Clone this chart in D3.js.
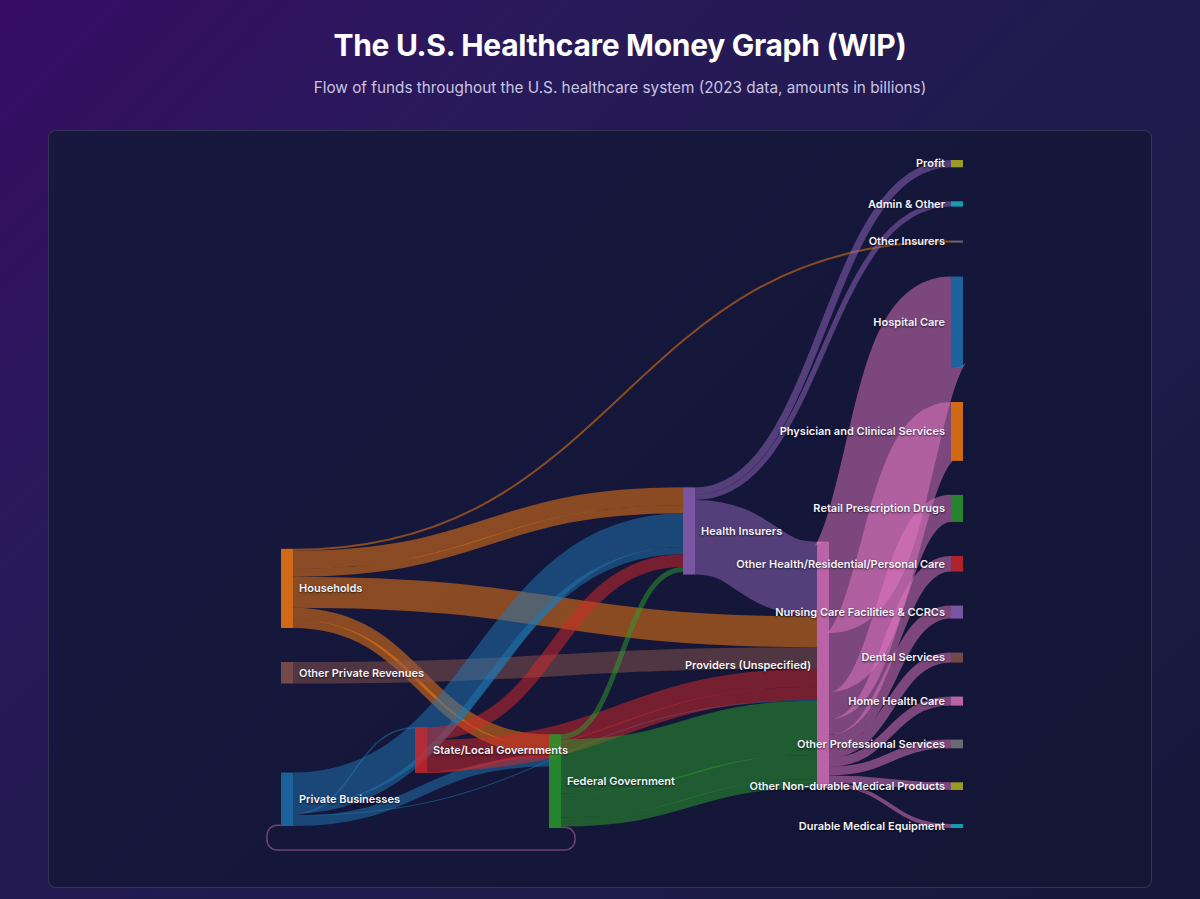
<!DOCTYPE html>
<html>
<head>
<meta charset="utf-8">
<script src="https://cdn.jsdelivr.net/npm/d3@7"></script>
<style>
html, body { margin: 0; padding: 0; }
body {
  width: 1200px; height: 899px; overflow: hidden; position: relative;
  font-family: Inter, "Noto Sans", sans-serif;
  background: linear-gradient(135deg, #380d66 0%, #281a59 28%, #201b4e 55%, #1b1a44 80%, #17173a 100%);
}
h1 {
  position: absolute; left: 20px; top: 25px; width: 1200px; margin: 0;
  text-align: center; color: #fff; font-size: 30px; font-weight: 700; line-height: 40px;
  letter-spacing: -0.3px;
}
.sub {
  position: absolute; left: 20px; top: 78px; width: 1200px; margin: 0;
  text-align: center; color: #c9c5e2; font-size: 15.3px; line-height: 20px;
}
.card {
  position: absolute; left: 48px; top: 130px; width: 1104px; height: 758px;
  box-sizing: border-box; border: 1px solid rgba(255,255,255,0.13); border-radius: 8px;
  background: linear-gradient(135deg, #18183f 0%, #14173a 50%, #131634 100%);
  overflow: hidden;
}
.card svg { position: absolute; left: 0; top: 0; }
.label { font-size: 11px; font-weight: 600; fill: #f4f2fb; text-shadow: 0 1px 2px rgba(0,0,0,0.7); }
</style>
</head>
<body>
<h1>The U.S. Healthcare Money Graph (WIP)</h1>
<p class="sub">Flow of funds throughout the U.S. healthcare system (2023 data, amounts in billions)</p>
<div class="card"></div>
<script>
// ---------- data (amounts in billions) ----------
const nodeNames = [
  "Households", "Other Private Revenues", "Private Businesses",
  "State/Local Governments", "Federal Government", "Health Insurers",
  "Providers (Unspecified)",
  "Profit", "Admin & Other", "Other Insurers", "Hospital Care",
  "Physician and Clinical Services", "Retail Prescription Drugs",
  "Other Health/Residential/Personal Care", "Nursing Care Facilities & CCRCs",
  "Dental Services", "Home Health Care", "Other Professional Services",
  "Other Non-durable Medical Products", "Durable Medical Equipment"
];
// several flows may join the same pair of nodes (different programs)
const linkSources = [
  "Households", "Households", "Households", "Households", "Households", "Households",
  "Other Private Revenues",
  "Private Businesses", "Private Businesses", "Private Businesses", "Private Businesses", "Private Businesses",
  "State/Local Governments", "State/Local Governments", "State/Local Governments",
  "State/Local Governments", "State/Local Governments", "State/Local Governments",
  "Federal Government", "Federal Government", "Federal Government", "Federal Government",
  "Health Insurers", "Health Insurers", "Health Insurers",
  "Providers (Unspecified)", "Providers (Unspecified)", "Providers (Unspecified)",
  "Providers (Unspecified)", "Providers (Unspecified)", "Providers (Unspecified)",
  "Providers (Unspecified)", "Providers (Unspecified)", "Providers (Unspecified)",
  "Providers (Unspecified)"
];
const linkTargets = [
  "Other Insurers", "Health Insurers", "Health Insurers", "Providers (Unspecified)",
  "Federal Government", "Federal Government",
  "Providers (Unspecified)",
  "Health Insurers", "Health Insurers", "State/Local Governments", "Federal Government",
  "Providers (Unspecified)",
  "Health Insurers", "Providers (Unspecified)", "Providers (Unspecified)",
  "Federal Government", "Federal Government", "Federal Government",
  "Health Insurers", "Providers (Unspecified)", "Providers (Unspecified)", "Providers (Unspecified)",
  "Profit", "Admin & Other", "Providers (Unspecified)",
  "Hospital Care", "Physician and Clinical Services", "Retail Prescription Drugs",
  "Other Health/Residential/Personal Care", "Nursing Care Facilities & CCRCs",
  "Dental Services", "Home Health Care", "Other Professional Services",
  "Other Non-durable Medical Products", "Durable Medical Equipment"
];
const linkValues = [
  33, 300, 131, 514,
  200, 137,
  358,
  560, 120, 25, 166,
  17,
  215, 300, 214,
  15, 10, 8,
  83, 900, 400, 150,
  121, 88, 1241,
  1520, 978, 450,
  260, 216,
  166, 150, 145,
  128, 66
];
// flow that loops back (drawn as a circular link under the chart)
const loopSources = ["Federal Government"];
const loopTargets = ["Private Businesses"];
const loopValues = [25];

// colour assignment order (category10)
const colorOrder = [
  "Hospital Care", "Physician and Clinical Services", "Retail Prescription Drugs",
  "Other Health/Residential/Personal Care", "Nursing Care Facilities & CCRCs",
  "Dental Services", "Home Health Care", "Other Professional Services",
  "Other Non-durable Medical Products", "Durable Medical Equipment",
  "Private Businesses", "Households", "Federal Government", "State/Local Governments",
  "Health Insurers", "Other Private Revenues", "Providers (Unspecified)",
  "Other Insurers", "Profit", "Admin & Other"
];

// ---------- sankey layout (circular-sankey style relaxation) ----------
function computeSankey(o) {
  const nodes = nodeNames.map((name, index) => ({name, index, sourceLinks: [], targetLinks: [], loopOut: [], loopIn: []}));
  const byName = new Map(nodes.map(d => [d.name, d]));
  const links = linkValues.map((value, i) => ({source: byName.get(linkSources[i]), target: byName.get(linkTargets[i]), value, index: i}));
  const loops = loopValues.map((value, i) => ({source: byName.get(loopSources[i]), target: byName.get(loopTargets[i]), value}));
  for (const l of links) { l.source.sourceLinks.push(l); l.target.targetLinks.push(l); }
  for (const l of loops) { l.source.loopOut.push(l); l.target.loopIn.push(l); }
  const anchored = new Set();
  for (const l of loops) { anchored.add(l.source); anchored.add(l.target); }
  for (const n of nodes) n.value = Math.max(
    d3.sum(n.sourceLinks, l => l.value) + d3.sum(n.loopOut, l => l.value),
    d3.sum(n.targetLinks, l => l.value) + d3.sum(n.loopIn, l => l.value));
  {
    let current = new Set(nodes), next = new Set(), x = 0;
    while (current.size) {
      for (const n of current) { n.depth = x; for (const {target} of n.sourceLinks) next.add(target); }
      if (++x > nodes.length) throw new Error("cycle");
      current = next; next = new Set();
    }
  }
  const nLayers = d3.max(nodes, d => d.depth) + 1;
  const kx = (o.x1 - o.x0 - o.dx) / (nLayers - 1);
  const columns = Array.from({length: nLayers}, () => []);
  for (const n of nodes) {
    const i = (n.sourceLinks.length || n.loopOut.length) ? n.depth : nLayers - 1;
    n.layer = i; n.x0 = o.x0 + i * kx; n.x1 = n.x0 + o.dx; columns[i].push(n);
  }
  const py = Math.min(o.py, (o.y1 - o.y0) / (d3.max(columns, c => c.length) - 1));
  const ky = d3.min(columns, c => (o.y1 - o.y0 - (c.length - 1) * py) / d3.sum(c, d => d.value));
  for (const l of links) l.width = l.value * ky;
  for (const l of loops) l.width = l.value * ky;
  const cy = n => (n.y0 + n.y1) / 2;
  for (const col of columns) {
    const n = col.length;
    col.forEach((node, i) => {
      const h = node.value * ky;
      node.y0 = anchored.has(node) ? o.y1 - h - i : o.y0 + (o.y1 - o.y0) / 2 - n / 2 + i;
      node.y1 = node.y0 + h;
    });
  }
  function resolveCollisions() {
    for (const col of columns) {
      col.sort((a, b) => a.y0 - b.y0);
      let y = o.y0, dy;
      for (const node of col) { dy = y - node.y0; if (dy > 0) { node.y0 += dy; node.y1 += dy; } y = node.y1 + py; }
      dy = y - py - o.y1;
      if (dy > 0) {
        const last = col[col.length - 1];
        last.y0 -= dy; last.y1 -= dy; y = last.y0;
        for (let i = col.length - 2; i >= 0; --i) {
          const node = col[i]; dy = node.y1 + py - y;
          if (dy > 0) { node.y0 -= dy; node.y1 -= dy; }
          y = node.y0;
        }
      }
    }
  }
  function relax(alpha) {
    for (const col of columns) for (const node of col) {
      if (anchored.has(node)) continue;
      const mt = node.sourceLinks.length ? d3.mean(node.sourceLinks, l => cy(l.target)) : undefined;
      const ms = node.targetLinks.length ? d3.mean(node.targetLinks, l => cy(l.source)) : undefined;
      const avg = (mt !== undefined && ms !== undefined) ? (mt + ms) / 2 : (mt !== undefined ? mt : ms);
      if (avg === undefined) continue;
      const dy = (avg - cy(node)) * alpha;
      node.y0 += dy; node.y1 += dy;
    }
  }
  resolveCollisions();
  for (let alpha = 1, k = o.iterations; k > 0; --k) { relax(alpha *= 0.99); resolveCollisions(); }

  // link stacking ordered by each link's incline
  const slope = l => (cy(l.target) - cy(l.source)) / Math.max(1, l.target.x0 - l.source.x1);
  for (const n of nodes) {
    n.sourceLinks.sort((a, b) => (slope(a) - slope(b)) || (a.index - b.index));
    n.targetLinks.sort((a, b) => (slope(b) - slope(a)) || (a.index - b.index));
    let a = n.y0, b = n.y0;
    for (const l of n.sourceLinks) { l.y0 = a + l.width / 2; a += l.width; }
    for (const l of n.targetLinks) { l.y1 = b + l.width / 2; b += l.width; }
  }
  return {nodes, links, loops, ky, nLayers};
}

// ---------- draw ----------
const W = 1102, H = 756;
const graph = computeSankey({x0: 232, x1: 914, y0: 29, y1: 697, dx: 12, py: 34, iterations: 32});
const color = d3.scaleOrdinal(colorOrder, d3.schemeCategory10);
const svg = d3.select(".card").append("svg").attr("width", W).attr("height", H);

// circular (looping) flows
const loopG = svg.append("g").attr("fill", "none");
graph.loops.forEach(l => {
  const s = l.source, t = l.target, w = Math.max(1, l.width);
  const sx = s.x1, sy = s.y1 - w / 2, tx = t.x0, ty = t.y1 - w / 2;
  const bottom = Math.max(s.y1, t.y1) + 22;
  const r = 10, ext = 14;
  const p = d3.path();
  p.moveTo(sx, sy);
  p.lineTo(sx + ext - r, sy);
  p.arcTo(sx + ext, sy, sx + ext, sy + r, r);
  p.lineTo(sx + ext, bottom - r);
  p.arcTo(sx + ext, bottom, sx + ext - r, bottom, r);
  p.lineTo(tx - ext + r, bottom);
  p.arcTo(tx - ext, bottom, tx - ext, bottom - r, r);
  p.lineTo(tx - ext, ty + r);
  p.arcTo(tx - ext, ty, tx - ext + r, ty, r);
  p.lineTo(tx, ty);
  loopG.append("path").attr("d", p.toString())
    .attr("stroke", "#c2649e").attr("stroke-opacity", 0.55).attr("stroke-width", w);
});

// links
const linkPath = d3.linkHorizontal().source(d => [d.source.x1, d.y0]).target(d => [d.target.x0, d.y1]);
svg.append("g").attr("fill", "none")
  .selectAll("path").data(graph.links).join("path")
  .attr("d", linkPath)
  .attr("stroke", d => color(d.source.name))
  .attr("stroke-opacity", 0.5)
  .attr("stroke-width", d => Math.max(1, d.width));

// nodes
svg.append("g").selectAll("rect").data(graph.nodes).join("rect")
  .attr("x", d => d.x0).attr("y", d => d.y0)
  .attr("width", d => d.x1 - d.x0).attr("height", d => Math.max(1, d.y1 - d.y0))
  .attr("fill", d => color(d.name)).attr("fill-opacity", 0.8);

// labels
svg.append("g").selectAll("text").data(graph.nodes).join("text")
  .attr("class", "label")
  .attr("x", d => d.layer < graph.nLayers - 2 ? d.x1 + 6 : d.x0 - 6)
  .attr("y", d => (d.y0 + d.y1) / 2)
  .attr("dy", "0.35em")
  .attr("text-anchor", d => d.layer < graph.nLayers - 2 ? "start" : "end")
  .text(d => d.name);
</script>
</body>
</html>
